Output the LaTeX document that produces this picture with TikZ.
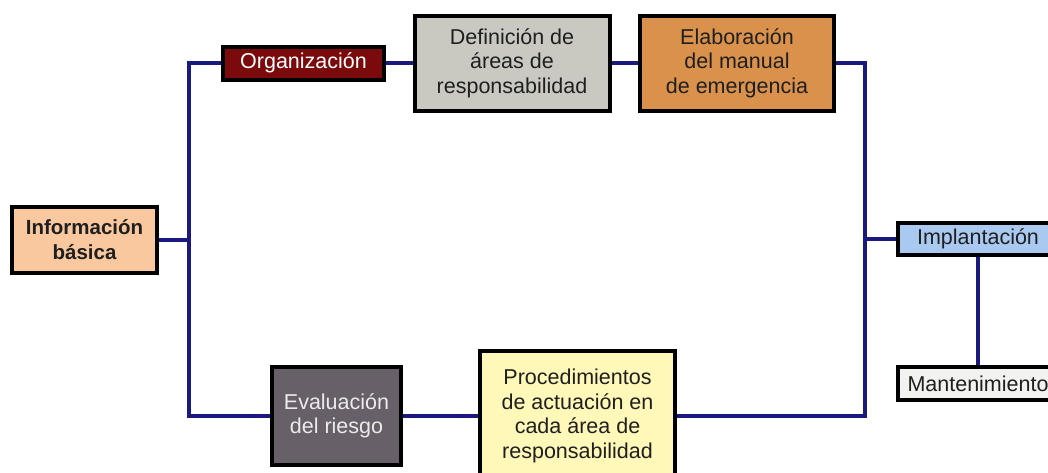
\documentclass[tikz,border=0pt]{standalone}
\usepackage{fontspec}
\setmainfont{Liberation Sans}
\begin{document}
\begin{tikzpicture}[x=1pt,y=-1pt,
  box/.style={draw=black,line width=4pt,inner sep=0pt,align=center,
    font=\fontsize{21.5}{24.5}\selectfont,text=black!88},
  link/.style={draw=navy,line width=3.5pt}]
\definecolor{navy}{HTML}{1A1A7E}
\definecolor{cinfo}{HTML}{F9C89E}
\definecolor{corg}{HTML}{7A0A0C}
\definecolor{cdef}{HTML}{C9C9C2}
\definecolor{celab}{HTML}{D9914C}
\definecolor{cimpl}{HTML}{A9C9F0}
\definecolor{cmant}{HTML}{F2F2F0}
\definecolor{ceval}{HTML}{686068}
\definecolor{cproc}{HTML}{FFF8B9}
\useasboundingbox[fill=white] (0,0) rectangle (1048,472);
\node[box,fill=cinfo,minimum width=145,minimum height=66,font=\fontsize{20.5}{25}\selectfont\bfseries] (info) at (84.5,240) {Información\\básica};
\node[box,fill=corg,minimum width=161,minimum height=33,text=white] (org) at (303.5,63) {Organización};
\node[box,fill=cdef,minimum width=195,minimum height=95] (def) at (512,63) {Definición de\\áreas de\\responsabilidad};
\node[box,fill=celab,minimum width=194,minimum height=95] (elab) at (737,63) {Elaboración\\del manual\\de emergencia};
\node[box,fill=cimpl,minimum width=160,minimum height=32] (impl) at (978,239) {Implantación};
\node[box,fill=cmant,minimum width=160,minimum height=33] (mant) at (978,383.5) {Mantenimiento};
\node[box,fill=ceval,minimum width=129,minimum height=98,text=white!92!black] (eval) at (336.5,416) {Evaluación\\del riesgo};
\node[box,fill=cproc,minimum width=195,minimum height=131] (proc) at (577.5,416) {Procedimientos\\de actuación en\\cada área de\\responsabilidad};
\coordinate (jLt) at (189,63);
\coordinate (jLb) at (189,416);
\coordinate (jRt) at (865,63);
\coordinate (jRb) at (865,416);
\draw[link] (info.east) -- (info.east -| jLt);
\draw[link] (org.west) -- (jLt) -- (jLb) -- (eval.west);
\draw[link] (org.east) -- (def.west);
\draw[link] (def.east) -- (elab.west);
\draw[link] (elab.east) -- (jRt) -- (jRb) -- (proc.east);
\draw[link] (eval.east) -- (proc.west);
\draw[link] (impl.west) -- (impl.west -| jRt);
\draw[link] (impl.south) -- (mant.north);
\end{tikzpicture}
\end{document}
